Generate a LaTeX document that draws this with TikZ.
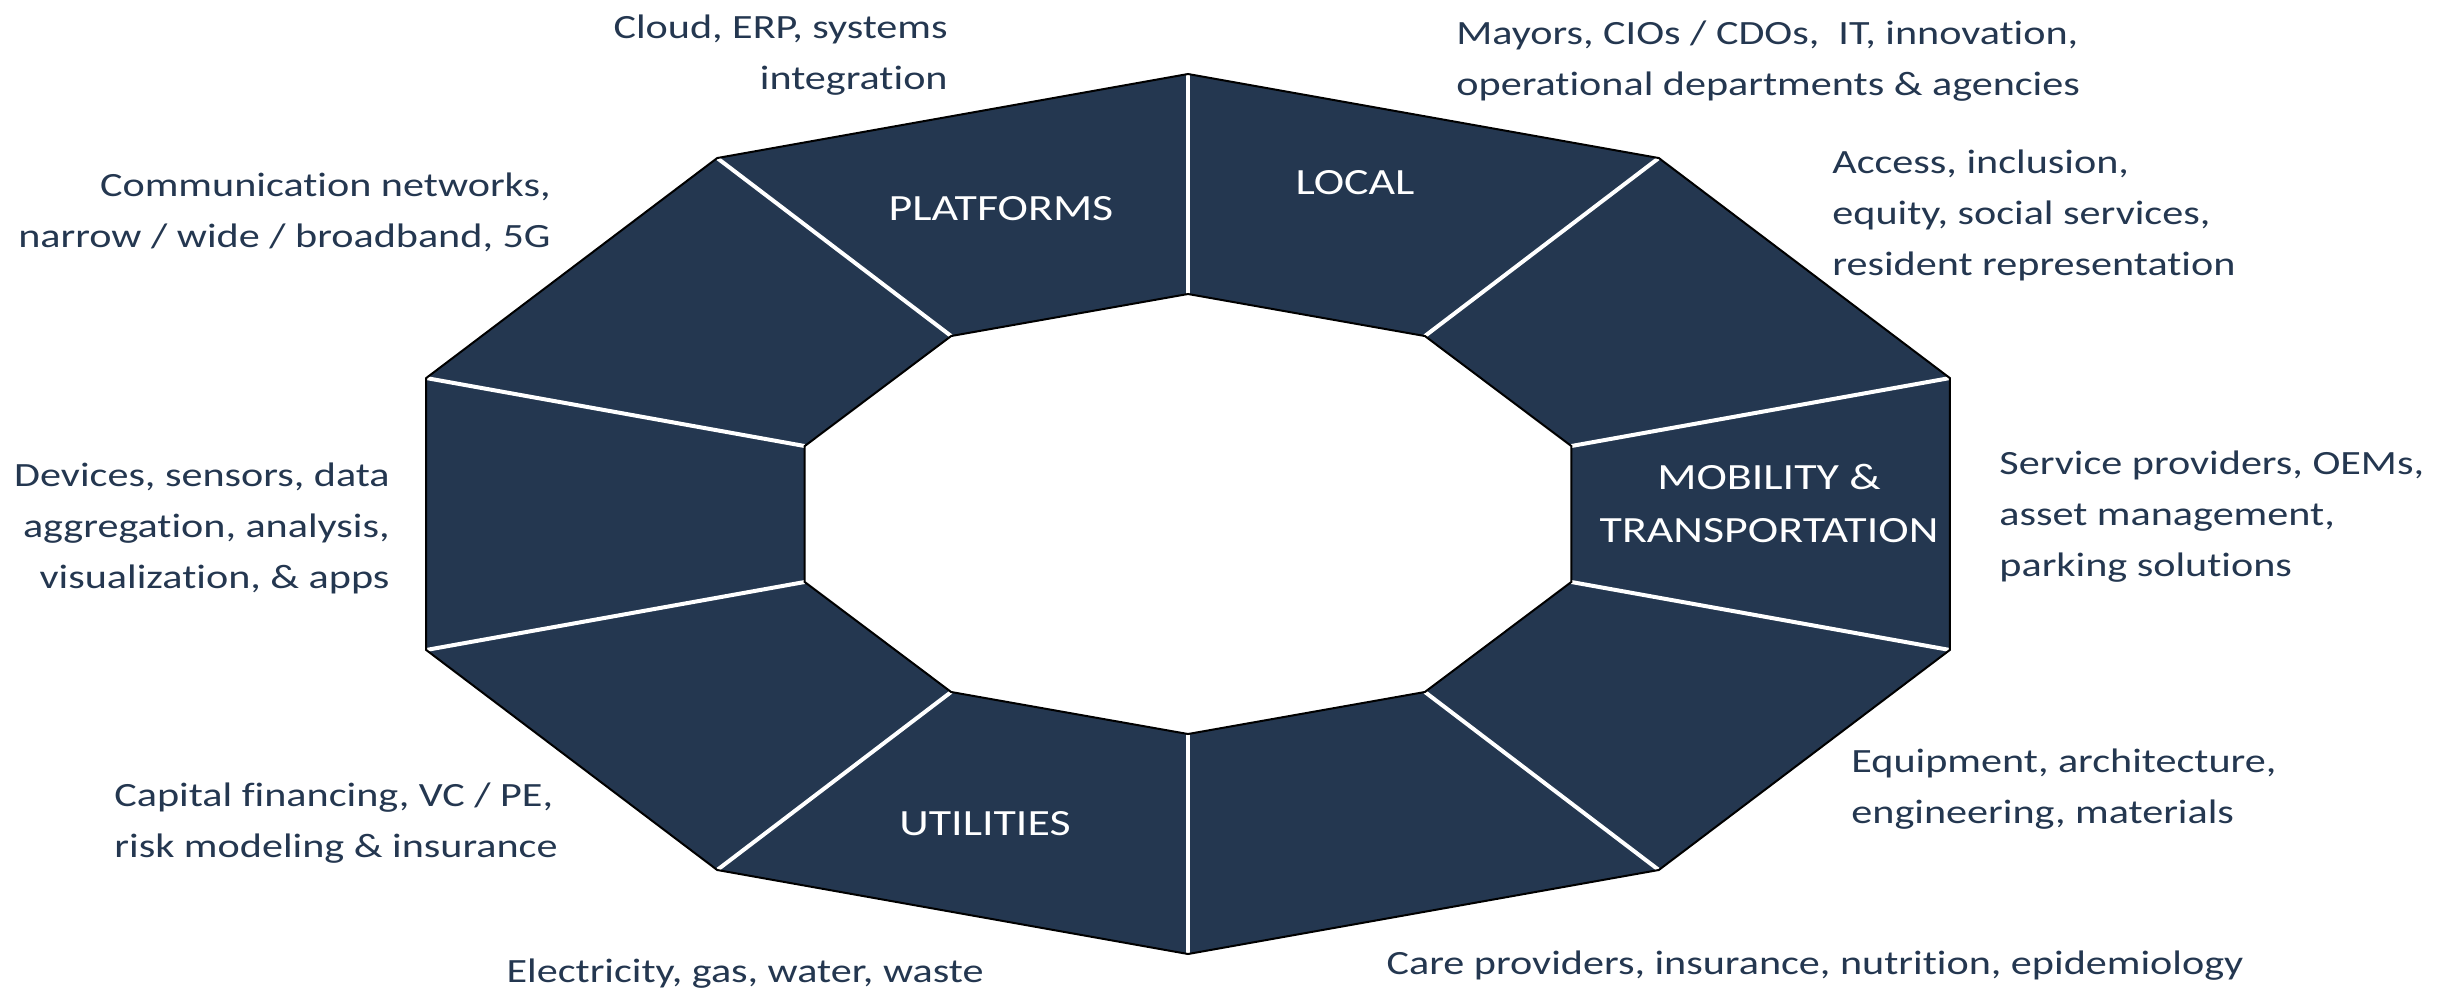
\documentclass[tikz,border=0pt]{standalone}
\usepackage{fontspec}
\setmainfont[FakeStretch=1.24, Ligatures=NoCommon]{Carlito}
\usetikzlibrary{calc}
\definecolor{navy}{RGB}{36,55,80}
\tikzset{
  seg/.style={fill=navy, draw=none},
  rim/.style={draw=black, line width=1pt, line join=miter},
  divider/.style={draw=white, line width=2pt},
  lbl/.style={inner sep=0pt, text=navy, font=\fontsize{17}{25.5}\selectfont},
  inlbl/.style={inner sep=0pt, text=white, align=center, font=\fontsize{18.5}{26.5}\selectfont}
}
\begin{document}
\begin{tikzpicture}[x=0.5pt,y=-0.5pt]
\useasboundingbox (0,0) rectangle (2453,993);
% decagon vertices (k=0 at top, clockwise on screen)
\foreach \k in {0,...,9}{
  \pgfmathsetmacro{\ang}{-90+36*\k}
  \coordinate (o\k) at ($(1188,514)+(\ang:801 and 440)$);
  \coordinate (i\k) at ($(1188,514)+(\ang:403 and 220)$);
}
% ring fill
\fill[seg, even odd rule] (o0)--(o1)--(o2)--(o3)--(o4)--(o5)--(o6)--(o7)--(o8)--(o9)--cycle
  (i0)--(i1)--(i2)--(i3)--(i4)--(i5)--(i6)--(i7)--(i8)--(i9)--cycle;
% dividers
\foreach \k in {0,...,9}{
  \draw[divider] (i\k) -- (o\k);
}
% rims
\draw[rim] (o0)--(o1)--(o2)--(o3)--(o4)--(o5)--(o6)--(o7)--(o8)--(o9)--cycle;
\draw[rim] (i0)--(i1)--(i2)--(i3)--(i4)--(i5)--(i6)--(i7)--(i8)--(i9)--cycle;
% inner labels
\node[inlbl] (platforms) at (1001,209) {PLATFORMS};
\node[inlbl] (local) at (1355,183) {LOCAL};
\node[inlbl] (mobility) at (1769,503) {MOBILITY \&\\TRANSPORTATION};
\node[inlbl] (utilities) at (985,824) {UTILITIES};
% outer labels
\node[lbl, anchor=east, align=right] (cloud) at (948,55) {Cloud, ERP, systems\\integration};
\node[lbl, anchor=west, align=left] (mayors) at (1456,61) {Mayors, CIOs / CDOs,~ IT, innovation,\\operational departments \& agencies};
\node[lbl, anchor=west, align=left] (access) at (1832,215) {Access, inclusion,\\equity, social services,\\resident representation};
\node[lbl, anchor=east, align=right] (comm) at (551,212) {Communication networks,\\narrow / wide / broadband, 5G};
\node[lbl, anchor=east, align=right] (devices) at (390,528) {Devices, sensors, data\\aggregation, analysis,\\visualization, \& apps};
\node[lbl, anchor=west, align=left] (service) at (1999,517) {Service providers, OEMs,\\asset management,\\parking solutions};
\node[lbl, anchor=west, align=left] (capital) at (114,823) {Capital financing, VC / PE,\\risk modeling \& insurance};
\node[lbl, anchor=west, align=left] (equip) at (1851,789) {Equipment, architecture,\\engineering, materials};
\node[lbl] (elec) at (745,974) {Electricity, gas, water, waste};
\node[lbl] (care) at (1815,966) {Care providers, insurance, nutrition, epidemiology};
\end{tikzpicture}
\end{document}
